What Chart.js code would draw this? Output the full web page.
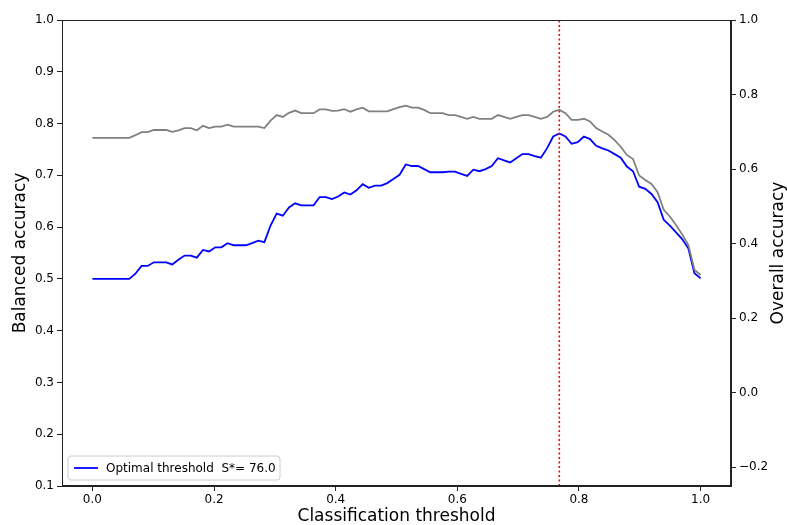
<!DOCTYPE html>
<html>
<head>
    <title>Threshold chart</title>
    <style>
        body {
            margin: 0;
            padding: 0;
            background-color: #ffffff;
        }

        .container {
            position: relative;
            width: 787px;
            height: 525px;
        }
    </style>
    <script src="https://cdn.jsdelivr.net/npm/chart.js"></script>
    <script>
        // classification thresholds (100 steps from 0 to 1)
        const thresholds = [
            0, 0.0101, 0.0202, 0.0303, 0.0404, 0.0505, 0.0606, 0.0707, 0.0808, 0.0909,
            0.1010, 0.1111, 0.1212, 0.1313, 0.1414, 0.1515, 0.1616, 0.1717, 0.1818, 0.1919,
            0.2020, 0.2121, 0.2222, 0.2323, 0.2424, 0.2525, 0.2626, 0.2727, 0.2828, 0.2929,
            0.3030, 0.3131, 0.3232, 0.3333, 0.3434, 0.3535, 0.3636, 0.3737, 0.3838, 0.3939,
            0.4040, 0.4141, 0.4242, 0.4343, 0.4444, 0.4545, 0.4646, 0.4747, 0.4848, 0.4949,
            0.5051, 0.5152, 0.5253, 0.5354, 0.5455, 0.5556, 0.5657, 0.5758, 0.5859, 0.5960,
            0.6061, 0.6162, 0.6263, 0.6364, 0.6465, 0.6566, 0.6667, 0.6768, 0.6869, 0.6970,
            0.7071, 0.7172, 0.7273, 0.7374, 0.7475, 0.7576, 0.7677, 0.7778, 0.7879, 0.7980,
            0.8081, 0.8182, 0.8283, 0.8384, 0.8485, 0.8586, 0.8687, 0.8788, 0.8889, 0.8990,
            0.9091, 0.9192, 0.9293, 0.9394, 0.9495, 0.9596, 0.9697, 0.9798, 0.9899, 1.0
        ];

        const balancedAccuracy = [
            0.500, 0.500, 0.500, 0.500, 0.500, 0.500, 0.500, 0.510, 0.525, 0.525,
            0.532, 0.532, 0.532, 0.528, 0.537, 0.545, 0.545, 0.541, 0.556, 0.553,
            0.561, 0.561, 0.569, 0.565, 0.565, 0.565, 0.569, 0.574, 0.571, 0.603,
            0.626, 0.622, 0.638, 0.646, 0.642, 0.642, 0.642, 0.658, 0.658, 0.654,
            0.659, 0.667, 0.663, 0.671, 0.683, 0.676, 0.680, 0.680, 0.685, 0.693,
            0.701, 0.721, 0.718, 0.718, 0.712, 0.706, 0.706, 0.706, 0.707, 0.707,
            0.703, 0.699, 0.711, 0.708, 0.712, 0.718, 0.733, 0.729, 0.725, 0.733,
            0.741, 0.741, 0.737, 0.734, 0.752, 0.775, 0.781, 0.775, 0.761, 0.764,
            0.775, 0.770, 0.757, 0.752, 0.748, 0.741, 0.734, 0.717, 0.708, 0.678,
            0.674, 0.664, 0.648, 0.614, 0.603, 0.590, 0.577, 0.559, 0.511, 0.501
        ];

        const overallAccuracy = [
            0.684, 0.684, 0.684, 0.684, 0.684, 0.684, 0.684, 0.691, 0.699, 0.699,
            0.705, 0.705, 0.705, 0.700, 0.704, 0.710, 0.710, 0.704, 0.716, 0.710,
            0.714, 0.714, 0.719, 0.714, 0.714, 0.714, 0.714, 0.714, 0.710, 0.730,
            0.745, 0.740, 0.751, 0.757, 0.750, 0.750, 0.750, 0.760, 0.760, 0.756,
            0.757, 0.761, 0.754, 0.760, 0.765, 0.755, 0.755, 0.755, 0.755, 0.761,
            0.766, 0.770, 0.765, 0.765, 0.759, 0.750, 0.750, 0.750, 0.745, 0.745,
            0.740, 0.735, 0.740, 0.735, 0.735, 0.735, 0.745, 0.740, 0.735, 0.740,
            0.745, 0.745, 0.740, 0.735, 0.740, 0.754, 0.759, 0.750, 0.732, 0.732,
            0.735, 0.728, 0.710, 0.701, 0.692, 0.678, 0.660, 0.638, 0.627, 0.583,
            0.571, 0.560, 0.538, 0.491, 0.473, 0.450, 0.425, 0.397, 0.330, 0.316
        ];

        const optimalThreshold = 0.7677;
        const legendLabel = 'Optimal threshold  S*= 76.0';

        const xTicks = [0, 0.2, 0.4, 0.6, 0.8, 1.0];
        const leftTicks = [0.1, 0.2, 0.3, 0.4, 0.5, 0.6, 0.7, 0.8, 0.9, 1.0];
        const rightTicks = [-0.2, 0, 0.2, 0.4, 0.6, 0.8, 1.0];

        const FONT = "'DejaVu Sans', sans-serif";

        function fmt(v) {
            const s = v.toFixed(1);
            return v < 0 ? '\u2212' + s.slice(1) : s;
        }

        // frame around the plot, right title and in-plot legend
        const extras = {
            id: 'extras',
            afterDraw(chart) {
                const ctx = chart.ctx;
                const a = chart.chartArea;
                ctx.save();
                ctx.strokeStyle = '#222';
                ctx.lineWidth = 1;
                ctx.strokeRect(a.left + 0.5, a.top + 0.5, a.right - a.left - 1, a.bottom - a.top - 1);

                // right axis title, reading upwards like matplotlib
                ctx.translate(779, (a.top + a.bottom) / 2);
                ctx.rotate(-Math.PI / 2);
                ctx.font = '17px ' + FONT;
                ctx.fillStyle = '#000';
                ctx.textAlign = 'center';
                ctx.textBaseline = 'middle';
                ctx.fillText('Overall accuracy', 0, 0);
                ctx.restore();

                // legend box
                ctx.save();
                const bx = a.left + 6, by = a.bottom - 30, bw = 212, bh = 24, r = 3;
                ctx.beginPath();
                ctx.moveTo(bx + r, by);
                ctx.arcTo(bx + bw, by, bx + bw, by + bh, r);
                ctx.arcTo(bx + bw, by + bh, bx, by + bh, r);
                ctx.arcTo(bx, by + bh, bx, by, r);
                ctx.arcTo(bx, by, bx + bw, by, r);
                ctx.closePath();
                ctx.fillStyle = 'rgba(255,255,255,0.8)';
                ctx.fill();
                ctx.strokeStyle = '#cccccc';
                ctx.stroke();
                ctx.strokeStyle = '#0000ff';
                ctx.lineWidth = 1.8;
                ctx.beginPath();
                ctx.moveTo(bx + 6, by + bh / 2);
                ctx.lineTo(bx + 30, by + bh / 2);
                ctx.stroke();
                ctx.font = '12px ' + FONT;
                ctx.fillStyle = '#000';
                ctx.textBaseline = 'middle';
                ctx.fillText(legendLabel, bx + 38, by + bh / 2 + 1);
                ctx.restore();
            }
        };

        document.addEventListener("DOMContentLoaded", function() {
            const blueData = thresholds.map((t, i) => ({ x: t, y: balancedAccuracy[i] }));
            const grayData = thresholds.map((t, i) => ({ x: t, y: overallAccuracy[i] }));
            const tickFont = { family: FONT, size: 12 };

            const ctx = document.getElementById('myChart').getContext('2d');
            new Chart(ctx, {
                type: 'line',
                data: {
                    datasets: [{
                        label: 'Overall accuracy',
                        data: grayData,
                        yAxisID: 'y2',
                        borderColor: '#808080',
                        borderWidth: 1.8,
                        pointRadius: 0,
                        order: 1
                    }, {
                        label: 'threshold',
                        data: [{ x: optimalThreshold, y: 0.1 }, { x: optimalThreshold, y: 1.0 }],
                        yAxisID: 'y',
                        borderColor: '#ff0000',
                        borderWidth: 1.6,
                        borderDash: [2, 2.5],
                        pointRadius: 0,
                        order: 2
                    }, {
                        label: 'Balanced accuracy',
                        data: blueData,
                        yAxisID: 'y',
                        borderColor: '#0000ff',
                        borderWidth: 1.8,
                        pointRadius: 0,
                        order: 3
                    }]
                },
                options: {
                    responsive: true,
                    maintainAspectRatio: false,
                    animation: false,
                    devicePixelRatio: 1,
                    layout: { padding: { top: 20, left: 0, right: 0, bottom: 0 } },
                    plugins: {
                        legend: { display: false },
                        tooltip: { enabled: false }
                    },
                    scales: {
                        x: {
                            type: 'linear',
                            min: -0.05,
                            max: 1.05,
                            afterBuildTicks: s => { s.ticks = xTicks.map(v => ({ value: v })); },
                            afterFit: s => { s.height = 39; },
                            grid: { drawOnChartArea: false, tickLength: 5, color: '#222' },
                            border: { color: '#222' },
                            ticks: { font: tickFont, color: '#000', padding: 2, maxRotation: 0, callback: v => fmt(v) },
                            title: {
                                display: true,
                                text: 'Classification threshold',
                                font: { family: FONT, size: 17, lineHeight: 1 },
                                color: '#000',
                                padding: { top: 0, bottom: 0 }
                            }
                        },
                        y: {
                            position: 'left',
                            min: 0.1,
                            max: 1.0,
                            afterBuildTicks: s => { s.ticks = leftTicks.map(v => ({ value: v })); },
                            afterFit: s => { s.width = 62; },
                            grid: { drawOnChartArea: false, tickLength: 5, color: '#222' },
                            border: { color: '#222' },
                            ticks: { font: tickFont, color: '#000', padding: 3, callback: v => fmt(v) },
                            title: {
                                display: true,
                                text: 'Balanced accuracy',
                                font: { family: FONT, size: 17, lineHeight: 1 },
                                color: '#000',
                                padding: { top: 12, bottom: 0 }
                            }
                        },
                        y2: {
                            position: 'right',
                            min: -0.25,
                            max: 1.0,
                            afterBuildTicks: s => { s.ticks = rightTicks.map(v => ({ value: v })); },
                            afterFit: s => { s.width = 56; },
                            grid: { drawOnChartArea: false, tickLength: 5, color: '#222' },
                            border: { color: '#222' },
                            ticks: { font: tickFont, color: '#000', padding: 3, callback: v => fmt(v) }
                        }
                    }
                },
                plugins: [extras]
            });
        });
    </script>
</head>
<body>
    <div class="container">
        <canvas id="myChart"></canvas>
    </div>
</body>
</html>
